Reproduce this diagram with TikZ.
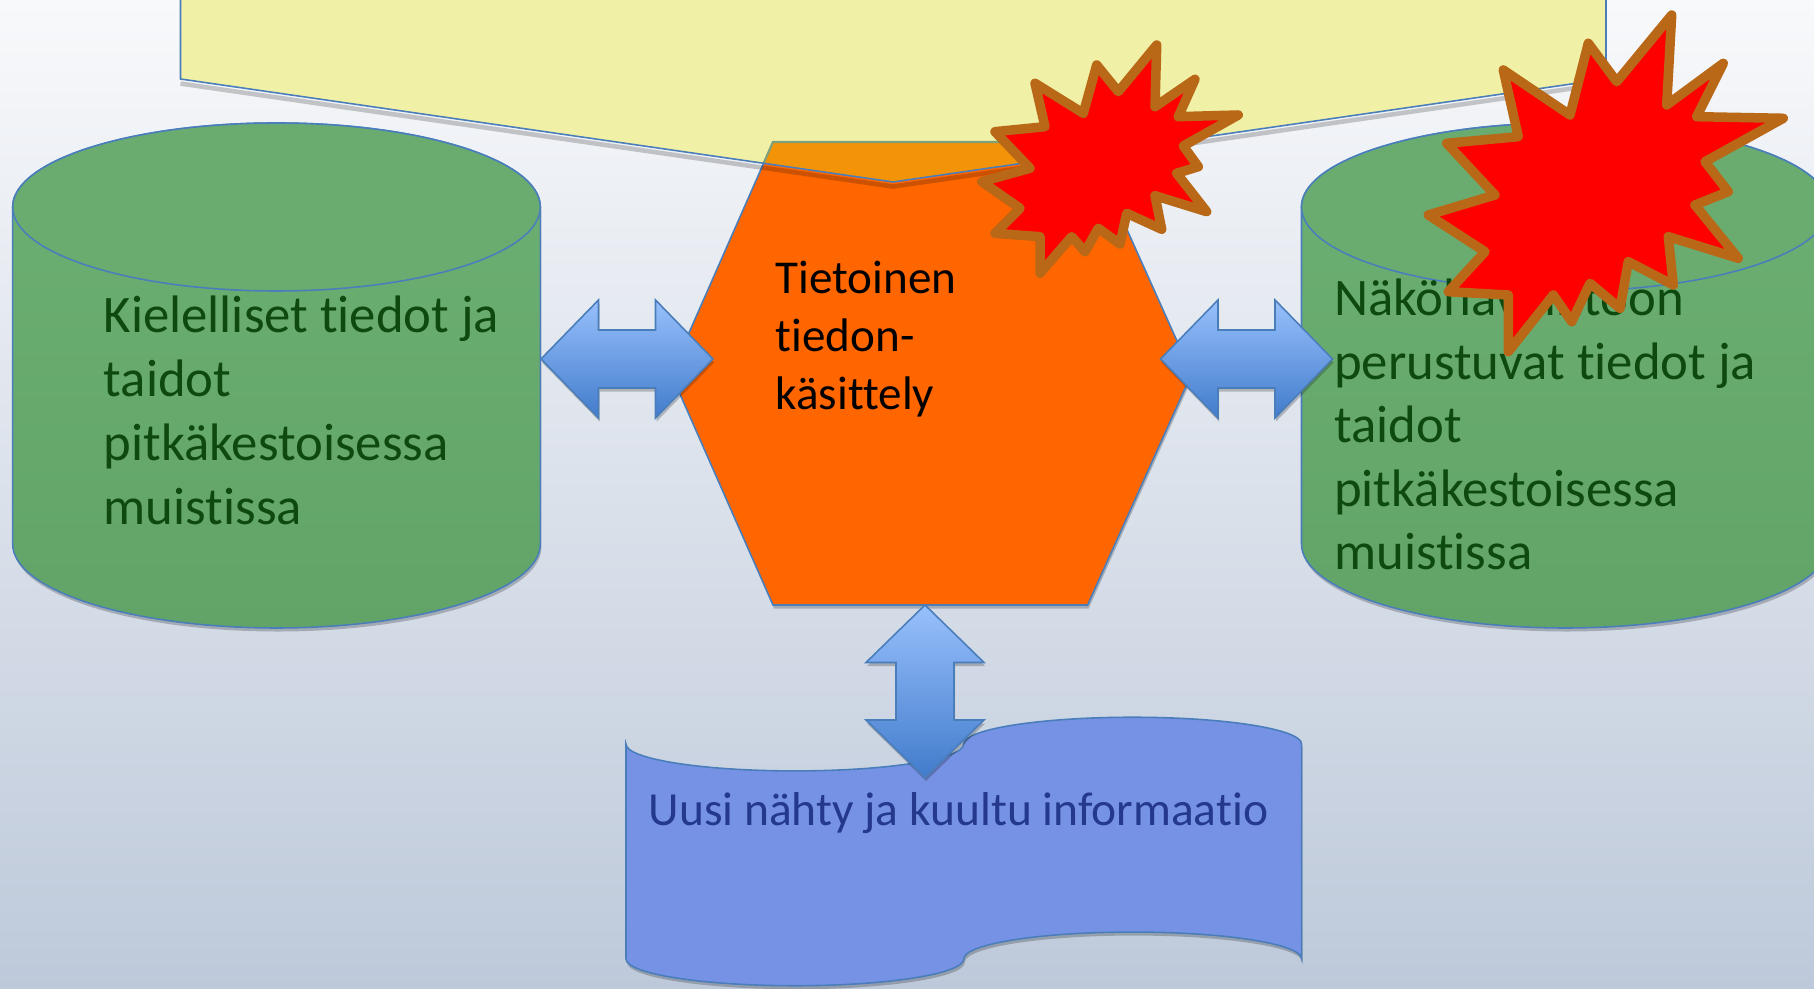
\documentclass[tikz,border=0pt]{standalone}
\usepackage{fontspec}
\setmainfont[Ligatures=NoCommon]{Carlito}
\usepackage{tikz}
\usetikzlibrary{shadows}

\definecolor{bgtop}{RGB}{248,249,251}
\definecolor{bgbot}{RGB}{189,201,218}
\definecolor{lineblue}{RGB}{74,126,187}
\definecolor{padyellow}{RGB}{240,240,166}
\definecolor{hexorange}{RGB}{255,102,0}
\definecolor{hextop}{RGB}{243,148,8}
\definecolor{hexedge}{RGB}{128,160,120}
\definecolor{memgreen}{RGB}{106,172,112}
\definecolor{memgreentop}{RGB}{109,176,115}
\definecolor{memgreenbot}{RGB}{98,164,104}
\definecolor{memtext}{RGB}{14,74,16}
\definecolor{arrowtop}{RGB}{152,192,252}
\definecolor{arrowbot}{RGB}{66,124,204}
\definecolor{tapeblue}{RGB}{118,146,229}
\definecolor{tapetext}{RGB}{36,56,140}
\definecolor{burstred}{RGB}{255,0,0}
\definecolor{burstedge}{RGB}{184,104,22}

\tikzset{
  outline/.style={draw=lineblue, line width=0.45pt},
  shadowed/.style={drop shadow={shadow xshift=0.3pt, shadow yshift=-1pt, opacity=0.22, fill=black}},
  memory/.style={outline, shadowed, top color=memgreentop, bottom color=memgreenbot},
  blockarrow/.style={outline, shadowed, top color=arrowtop, bottom color=arrowbot},
  burst/.style={fill=burstred, draw=burstedge, line width=2.7pt, line join=round},
  memtxt/.style={inner sep=0pt, anchor=base west, text=memtext, font=\fontsize{15}{18}\selectfont},
  hextxt/.style={inner sep=0pt, anchor=base west, text=black, font=\fontsize{13.4}{16}\selectfont},
  tapetxt/.style={inner sep=0pt, anchor=base west, text=tapetext, font=\fontsize{13.5}{16}\selectfont}
}

\begin{document}
\begin{tikzpicture}[x=0.01cm, y=-0.01cm]
        \useasboundingbox (0, 0) rectangle (1814, 989);
        \shade[top color=bgtop, bottom color=bgbot] (0, 0) rectangle (1814, 989);

        %% yellow box at the top
        \fill[padyellow] (180.5, -20) -- (180.5, 79) -- (893, 182) -- (1606, 79) -- (1606, -20) -- cycle;

        %% long term memories
        \draw[memory] (12.7, 207) -- (12.7, 544) arc[start angle=180, end angle=0, x radius=263.8, y radius=84]
            -- (540.3, 207) arc[start angle=0, end angle=-180, x radius=263.8, y radius=84] -- cycle;
        \draw[outline, fill=memgreen] (276.5, 207) ellipse [x radius=263.8, y radius=84];

        \draw[memory] (1301.5, 207) -- (1301.5, 544) arc[start angle=180, end angle=0, x radius=263.8, y radius=84]
            -- (1829.1, 207) arc[start angle=0, end angle=-180, x radius=263.8, y radius=84] -- cycle;
        \draw[outline, fill=memgreen] (1565.3, 207) ellipse [x radius=263.8, y radius=84];

        %% hexagon
        \draw[outline, shadowed, fill=hexorange] (773, 142) -- (1087.6, 142) -- (1191.7, 373.7)
            -- (1087.6, 605) -- (773, 605) -- (671, 373.7) -- cycle;
        \begin{scope}
            \clip (180.5, -20) -- (180.5, 79) -- (893, 182) -- (1606, 79) -- (1606, -20) -- cycle;
            \draw[draw=hexedge, line width=0.6pt, fill=hextop] (773, 142) -- (1087.6, 142) -- (1191.7, 373.7)
                -- (1087.6, 605) -- (773, 605) -- (671, 373.7) -- cycle;
        \end{scope}
        \draw[black, opacity=0.2, line width=1.3pt, yshift=-1.3pt] (180.5, 79) -- (893, 182) -- (1606, 79);
        \draw[outline] (180.5, -20) -- (180.5, 79) -- (893, 182) -- (1606, 79) -- (1606, -20);

        %% new information
        \draw[outline, shadowed, fill=tapeblue] (626, 744.1)
            arc[start angle=180, end angle=0, x radius=168.9, y radius=26.84]
            arc[start angle=180, end angle=360, x radius=168.9, y radius=26.84]
            -- (1301.6, 958.9)
            arc[start angle=0, end angle=-180, x radius=168.9, y radius=26.84]
            arc[start angle=0, end angle=180, x radius=168.9, y radius=26.84] -- cycle;

        %% arrows
        \draw[blockarrow] (541, 359) -- (598.5, 300) -- (598.5, 330) -- (655.5, 330) -- (655.5, 300) -- (713, 359)
            -- (655.5, 418) -- (655.5, 388) -- (598.5, 388) -- (598.5, 418) -- cycle;
        \draw[blockarrow] (1160.5, 359) -- (1218, 300) -- (1218, 330) -- (1275, 330) -- (1275, 300) -- (1332.5, 359)
            -- (1275, 418) -- (1275, 388) -- (1218, 388) -- (1218, 418) -- cycle;
        \draw[blockarrow] (925, 605) -- (984, 662.5) -- (954, 662.5) -- (954, 720) -- (984, 720) -- (925, 777.5)
            -- (866, 720) -- (896, 720) -- (896, 662.5) -- (866, 662.5) -- cycle;

        %% texts
        \foreach \t [count=\i from 0] in {Kielelliset tiedot ja, taidot, pitkäkestoisessa, muistissa}
            \node[memtxt] (kieli\i) at (103, 333+64*\i) {\t};
        \foreach \t [count=\i from 0] in {Näköhavaintoon, perustuvat tiedot ja, taidot, pitkäkestoisessa, muistissa}
            \node[memtxt] (nako\i) at (1333.5, 316+63.5*\i) {\t};
        \foreach \t [count=\i from 0] in {Tietoinen, tiedon-, käsittely}
            \node[hextxt] (tieto\i) at (775, 294+58*\i) {\t};
        \node[tapetxt] (uusi) at (648, 826) {Uusi nähty ja kuultu informaatio};

        %% bursts
        \draw[burst] (1156.7, 45) -- (1155, 106.7) -- (1195, 79.3) -- (1178.3, 116.7) -- (1238.3, 115)
            -- (1183.3, 146) -- (1198.3, 166.7) -- (1176.7, 173.3) -- (1206.7, 211.7) -- (1155, 195.7)
            -- (1161.7, 229.3) -- (1126.7, 213.3) -- (1120, 244) -- (1098.3, 228.3) -- (1085, 251.7)
            -- (1071.7, 236.7) -- (1040, 273.3) -- (1040, 236.7) -- (995, 233.3) -- (1020, 208.3)
            -- (981.7, 181.7) -- (1030, 168.3) -- (995, 131.7) -- (1045, 126.7) -- (1035, 83.3)
            -- (1083.3, 113.3) -- (1096.7, 65) -- (1118.3, 91.7) -- cycle;
        \draw[burst] (1671.7, 15) -- (1666.7, 105) -- (1723.3, 63.3) -- (1696.7, 116.7) -- (1783.3, 118.3)
            -- (1705, 161.7) -- (1728.3, 191.7) -- (1695, 205) -- (1738.3, 258.3) -- (1668.3, 236.7)
            -- (1673.3, 285) -- (1628.3, 261.7) -- (1620, 308.3) -- (1590, 283.3) -- (1571.7, 321.7)
            -- (1553.3, 295) -- (1508.3, 351.7) -- (1508.3, 295) -- (1448.3, 291.7) -- (1485, 251.7)
            -- (1428.3, 215) -- (1495, 195) -- (1446.7, 143.3) -- (1518.3, 136.7) -- (1503.3, 70)
            -- (1570, 115) -- (1588.3, 43.3) -- (1616.7, 81.7) -- cycle;
\end{tikzpicture}
\end{document}
